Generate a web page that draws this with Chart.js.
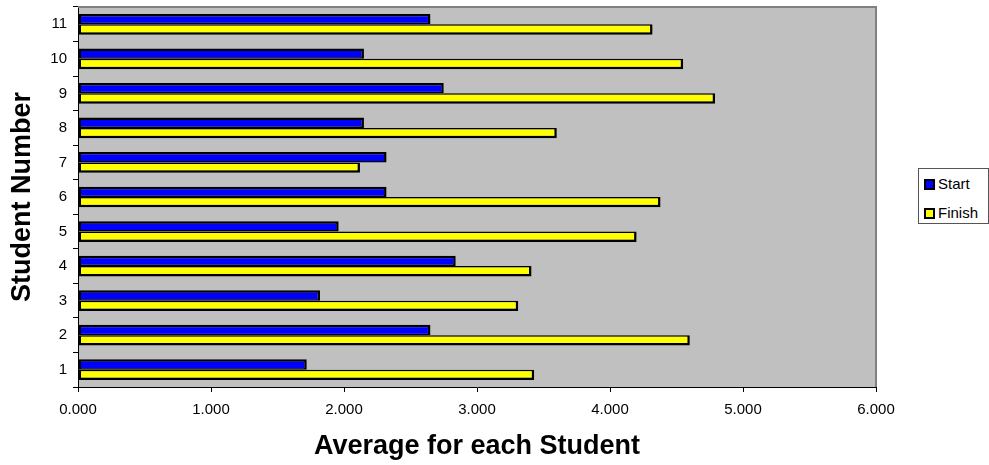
<!DOCTYPE html>
<html>
<head>
<meta charset="utf-8">
<title>Average for each Student</title>
<script src="https://cdn.jsdelivr.net/npm/chart.js@4/dist/chart.umd.min.js"></script>
<style>
  html, body { margin: 0; padding: 0; background: #fff; }
  #wrap { position: relative; width: 989px; height: 465px; }
  #chart { position: absolute; left: 0; top: 0; }
  .legend {
    position: absolute; left: 918px; top: 168px; width: 69px; height: 54px;
    border: 1px solid #555; background: #fff;
    font-family: "Liberation Sans", Arial, sans-serif; font-size: 15px; color: #000;
  }
  .legend .item { position: absolute; left: 5px; height: 18px; line-height: 18px; white-space: nowrap; }
  .legend .swatch {
    display: inline-block; width: 11px; height: 11px; box-sizing: border-box;
    border: 2px solid #000; vertical-align: -1px; margin-right: 3px;
  }
</style>
</head>
<body>
<div id="wrap">
  <canvas id="chart" width="989" height="465"></canvas>
  <div class="legend" id="legend"></div>
</div>
<script>
const FONT = "'Liberation Sans', Arial, sans-serif";

// student numbers, drawn bottom to top
const studentNumbers = ["1", "2", "3", "4", "5", "6", "7", "8", "9", "10", "11"];
const startAverages = [1.72, 2.65, 1.82, 2.84, 1.96, 2.32, 2.32, 2.15, 2.75, 2.15, 2.65];
const finishAverages = [3.43, 4.60, 3.31, 3.41, 4.20, 4.38, 2.12, 3.60, 4.79, 4.55, 4.32];
const seriesNames = ["Start", "Finish"];
const seriesColors = ["#0000FF", "#FFFF00"];

// grey plot area with a darker edge on top and right
const plotFrame = {
  id: "plotFrame",
  beforeDraw(chart) {
    const { ctx, chartArea: a } = chart;
    ctx.save();
    ctx.fillStyle = "#C0C0C0";
    ctx.fillRect(a.left, a.top, a.right - a.left, a.bottom - a.top);
    ctx.restore();
  },
  afterDraw(chart) {
    const { ctx, chartArea: a } = chart;
    ctx.save();
    ctx.strokeStyle = "#808080";
    ctx.lineWidth = 2;
    ctx.beginPath();
    ctx.moveTo(a.left, a.top);
    ctx.lineTo(a.right, a.top);
    ctx.lineTo(a.right, a.bottom);
    ctx.stroke();
    ctx.restore();
  },
};

const chart = new Chart(document.getElementById("chart"), {
  type: "bar",
  data: {
    labels: studentNumbers,
    datasets: [
      {
        label: seriesNames[0],
        data: startAverages,
        backgroundColor: seriesColors[0],
        borderColor: "#000",
        borderWidth: { top: 2.5, bottom: 1.5, left: 2.5, right: 2.5 },
        borderSkipped: false,
      },
      {
        label: seriesNames[1],
        data: finishAverages,
        backgroundColor: seriesColors[1],
        borderColor: "#000",
        borderWidth: { top: 1.5, bottom: 2.5, left: 2.5, right: 2.5 },
        borderSkipped: false,
      },
    ],
  },
  options: {
    indexAxis: "y",
    responsive: false,
    animation: false,
    categoryPercentage: 0.6,
    barPercentage: 1.0,
    layout: { padding: { top: 7, right: 113, left: 0, bottom: 0 } },
    plugins: {
      legend: { display: false },
      tooltip: { enabled: false },
    },
    scales: {
      y: {
        reverse: true,
        afterFit: (s) => {
          s.width = 78;
          s.paddingTop = 0;
          s.paddingBottom = 0;
        },
        grid: { drawOnChartArea: false, drawTicks: true, tickLength: 5, tickColor: "#000", offset: true },
        border: { color: "#000", width: 1 },
        ticks: { color: "#000", padding: 6, font: { family: FONT, size: 15 } },
        title: {
          display: true,
          text: "Student Number",
          color: "#000",
          padding: { top: 6, bottom: 0 },
          font: { family: FONT, size: 27, weight: "bold" },
        },
      },
      x: {
        min: 0,
        max: 6,
        afterFit: (s) => { s.height = 78; },
        grid: { drawOnChartArea: false, drawTicks: true, tickLength: 5, tickColor: "#000" },
        border: { color: "#000", width: 1 },
        ticks: {
          stepSize: 1,
          color: "#000",
          padding: 9,
          maxRotation: 0,
          font: { family: FONT, size: 15 },
          callback: (v) => Number(v).toFixed(3),
        },
        title: {
          display: true,
          text: "Average for each Student",
          color: "#000",
          padding: { top: 0, bottom: 2 },
          font: { family: FONT, size: 27, weight: "bold" },
        },
      },
    },
  },
  plugins: [plotFrame],
});

// legend box on the right
const legend = document.getElementById("legend");
seriesNames.forEach((name, i) => {
  const item = document.createElement("div");
  item.className = "item";
  item.style.top = (6 + i * 29) + "px";
  item.innerHTML = '<span class="swatch" style="background:' + seriesColors[i] + '"></span>' + name;
  legend.appendChild(item);
});
</script>
</body>
</html>
